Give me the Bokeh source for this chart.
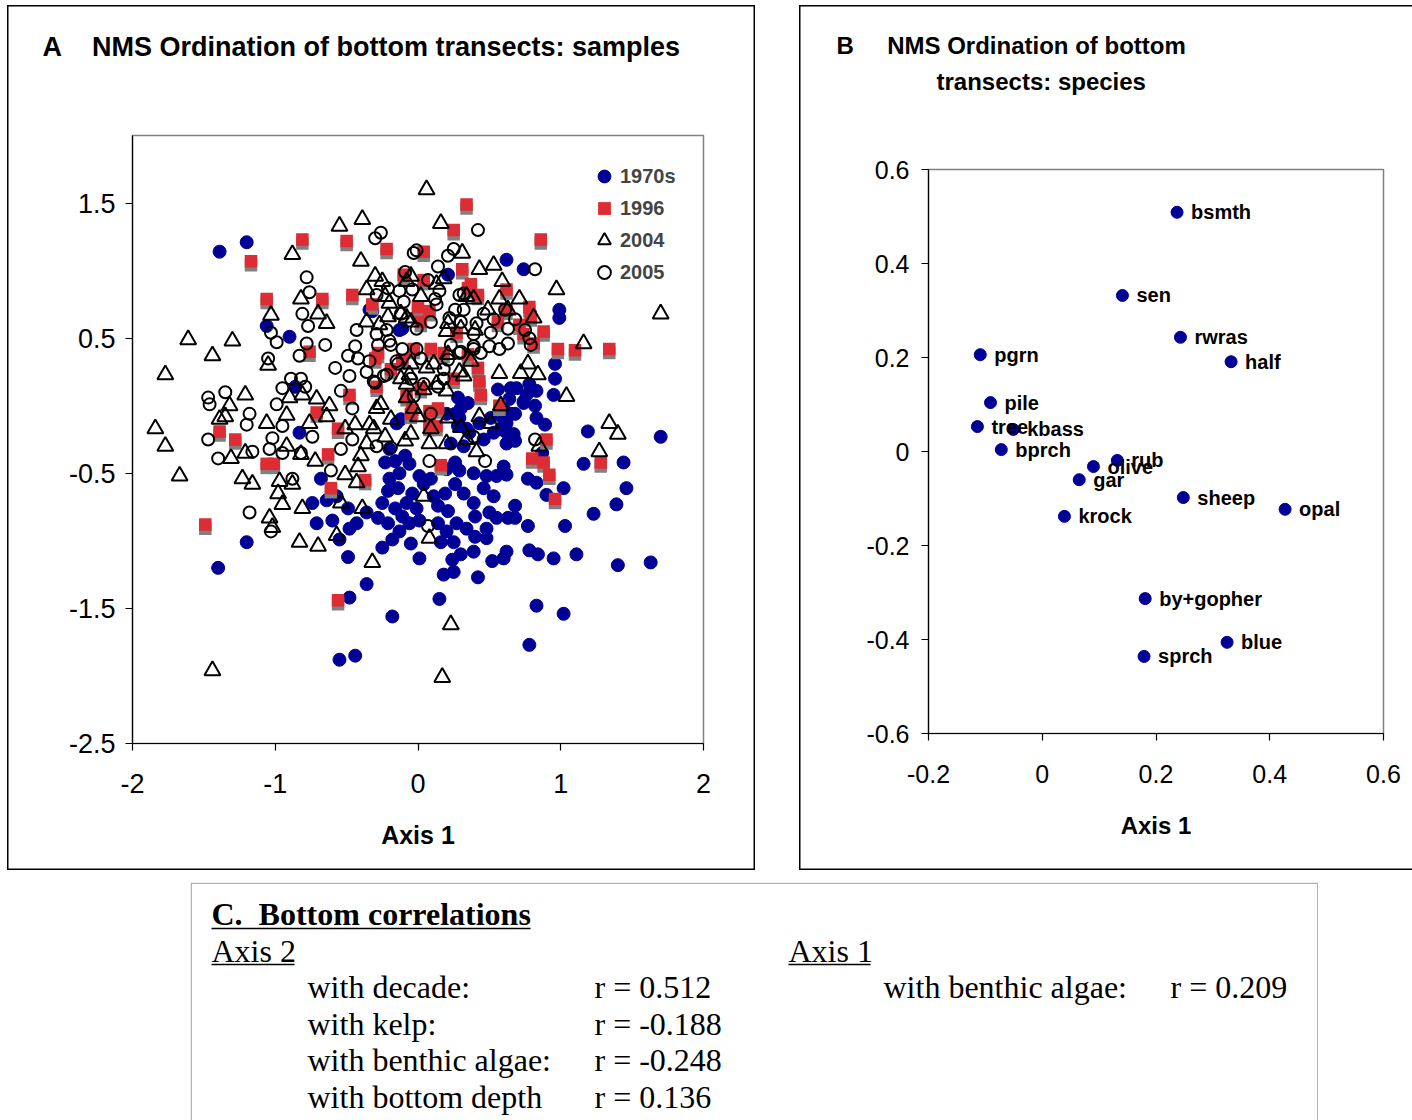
from bokeh.plotting import figure
from bokeh.models import (ColumnDataSource, FixedTicker, BoxAnnotation, Legend, LegendItem, Range1d,
                          Title, Spacer)
from bokeh.layouts import column, row
from bokeh.transform import dodge
from bokeh.core.properties import value
from bokeh.embed import file_html
from bokeh.resources import INLINE

# ---------------- data: panel A (sample scores) ----------------
s1970 = [[-1.39,1.14],[-1.20,1.21],[-1.40,-1.20],[0.62,1.08],[0.74,1.01],[0.99,0.71],[0.99,0.65],[0.21,0.97],[-0.32,0.70],[-0.11,0.57],
 [-1.06,0.59],[-0.90,0.51],[0.96,0.31],[0.96,0.20],[0.69,0.13],[0.76,0.08],[0.83,0.11],[0.95,0.08],[0.74,0.02],[0.82,0.00],
 [0.68,-0.06],[0.83,-0.09],[0.89,-0.14],[1.19,-0.19],[1.70,-0.23],[0.68,-0.26],[0.87,-0.35],[1.16,-0.43],[1.44,-0.42],[0.77,-0.54],
 [0.83,-0.57],[1.02,-0.61],[1.46,-0.61],[0.90,-0.66],[1.39,-0.73],[0.68,-0.74],[1.23,-0.80],[0.68,-0.83],[0.77,-0.89],[1.03,-0.89],
 [-1.20,-1.01],[-0.55,-0.99],[-0.49,-1.12],[-0.25,-1.05],[-0.18,-0.99],[-0.05,-1.02],[0.01,-1.13],[0.16,-1.01],[0.25,-1.01],[0.24,-1.14],
 [0.30,-1.10],[0.39,-1.08],[0.40,-0.97],[0.48,-0.98],[0.52,-1.15],[0.60,-1.13],[0.62,-1.08],[0.78,-1.07],[0.84,-1.10],[0.95,-1.13],
 [1.11,-1.10],[1.40,-1.18],[1.63,-1.16],[0.18,-1.25],[0.25,-1.23],[0.42,-1.27],[-0.36,-1.32],[-0.48,-1.42],[0.15,-1.43],[0.83,-1.48],
 [1.02,-1.54],[-0.18,-1.56],[0.78,-1.77],[-0.44,-1.85],[-0.55,-1.88],[-0.86,0.14],[-0.83,-0.20],[-0.74,-0.72],[-0.71,-0.87],[-0.68,-0.54],
 [-0.34,0.71],[-0.13,0.56],[0.65,0.13],[0.61,-0.19],[0.62,-0.28],[-0.20,-0.32],[-0.23,-0.42],[-0.16,-0.41],[-0.09,-0.37],[-0.06,-0.43],
 [-0.13,-0.50],[-0.20,-0.54],[-0.21,-0.63],[-0.14,-0.61],[-0.04,-0.65],[-0.08,-0.72],[-0.16,-0.76],[-0.11,-0.82],[-0.01,-0.76],[0.11,-0.67],
 [0.14,-0.74],[0.21,-0.78],[0.19,-0.65],[0.26,-0.58],[0.32,-0.65],[0.39,-0.72],[0.46,-0.61],[0.53,-0.67],[0.55,-0.52],[0.62,-0.51],
 [0.60,-0.45],[0.48,-0.52],[0.39,-0.50],[0.29,-0.48],[0.20,-0.47],[0.26,-0.42],[0.01,-0.52],[0.09,-0.54],[0.04,-0.58],[-0.25,-0.72],
 [-0.28,-0.83],[-0.21,-0.87],[-0.06,-0.87],[0.01,-0.85],[0.14,-0.87],[0.27,-0.87],[0.40,-0.82],[0.50,-0.79],[0.55,-0.83],[0.63,-0.83],
 [0.48,-0.91],[0.34,-0.91],[0.20,-0.93],[-0.13,-0.93],[-0.43,-0.87],[-0.49,-0.76],[-0.48,-0.91],[-0.36,-0.79],[-0.64,-0.70],[-0.57,-0.67],
 [-0.60,-0.85],[0.23,-0.28],[0.32,-0.30],[0.46,-0.25],[0.36,-0.20],[0.53,-0.20],[0.62,-0.13],[0.43,-0.13],[0.28,-0.15],[0.26,-0.06],
 [0.30,-0.02],[0.64,0.05],[0.61,-0.04],[0.56,0.12],[0.78,0.16],[0.74,0.03],[0.65,-0.06],[0.58,-0.17],[0.51,-0.09],[0.60,-0.10],
 [0.67,-0.21],[0.28,0.06],[0.35,0.02],[0.20,-0.06],[0.29,-0.09],[-0.12,-0.10],[-0.15,-0.13],[0.34,-0.17]]

s1996 = [[-1.17,1.07],[-0.81,1.23],[-1.06,0.79],[-0.67,0.79],[-0.50,1.22],[-0.22,1.16],[0.04,1.14],[0.34,1.49],[0.25,1.30],[0.31,1.01],
 [0.04,0.93],[0.37,0.90],[0.62,0.86],[0.86,1.23],[-0.46,0.82],[-1.39,-0.19],[-1.28,-0.25],[-1.49,-0.88],[-1.06,-0.43],[-1.01,-0.43],
 [-0.76,0.40],[-0.71,-0.05],[-0.61,-0.61],[-0.56,-1.44],[-0.37,-0.55],[0.16,-0.44],[0.98,0.42],[1.10,0.41],[1.34,0.42],[0.90,-0.25],
 [0.80,-0.39],[0.88,-0.42],[0.92,-0.51],[1.28,-0.42],[0.96,-0.69],[-0.10,0.97],[0.35,0.87],[0.00,0.73],[0.08,0.70],[0.02,0.62],
 [0.27,0.54],[-0.32,0.75],[0.42,0.82],[0.78,0.73],[0.79,0.66],[0.71,0.60],[0.62,0.71],[0.56,0.62],[0.74,0.53],[0.88,0.55],
 [-0.28,0.39],[-0.03,0.42],[0.09,0.42],[0.18,0.39],[0.35,0.38],[-0.19,0.27],[0.02,0.13],[0.14,-0.02],[0.13,-0.15],[-0.05,-0.06],
 [0.25,0.20],[-0.29,0.14],[0.42,0.28],[0.43,0.18],[0.44,0.08],[0.57,0.00],[0.81,0.46],[-0.30,0.35],[-0.11,0.34],[-0.08,0.07],
 [-0.04,-0.03],[0.08,-0.15],[-0.48,0.08],[-0.56,-0.17],[-0.63,-0.36],[0.08,-0.04]]

s2004 = [[0.06,1.60],[-0.39,1.38],[-0.55,1.33],[0.16,1.35],[0.31,1.13],[-0.88,1.12],[-0.82,0.79],[-1.03,0.67],[-0.70,0.68],[-0.40,1.07],
 [-0.30,0.96],[-0.05,0.96],[0.43,1.01],[0.53,1.04],[0.59,0.92],[0.97,0.86],[1.70,0.68],[0.71,0.79],[0.81,0.65],[-1.61,0.49],
 [-1.30,0.48],[-1.44,0.37],[-1.77,0.23],[-1.05,0.30],[-1.21,0.08],[-1.32,0.00],[-1.39,-0.10],[-1.35,-0.08],[-1.06,-0.13],[-0.92,-0.07],
 [-0.90,0.06],[-0.81,0.08],[-0.71,0.05],[-0.76,-0.13],[-1.84,-0.17],[-1.77,-0.30],[-1.67,-0.52],[-1.31,-0.39],[-1.21,-0.35],[-0.92,-0.30],
 [-0.82,-0.36],[-0.72,-0.41],[-1.23,-0.54],[-1.16,-0.58],[-0.97,-0.56],[-0.88,-0.58],[-0.98,-0.65],[-0.95,-0.73],[-0.81,-0.76],[-1.04,-0.83],
 [-1.02,-0.90],[-1.44,-1.96],[-0.83,-1.01],[-0.70,-1.04],[-0.57,-0.96],[-0.32,-1.16],[0.08,-0.98],[0.23,-1.62],[0.17,-2.01],[-0.25,0.92],
 [-0.36,0.86],[-0.23,0.81],[-0.20,0.76],[-0.21,0.66],[-0.12,0.68],[-0.08,0.65],[-0.36,0.62],[-0.64,0.61],[0.02,0.81],[0.13,0.90],
 [0.34,0.81],[0.49,0.71],[0.57,0.79],[0.40,0.56],[0.20,0.55],[0.18,0.94],[-0.08,0.92],[-0.05,0.62],[-0.27,0.60],[0.21,0.61],
 [0.30,0.57],[0.63,0.71],[0.39,0.79],[-0.05,0.31],[-0.06,0.23],[0.06,0.28],[0.11,0.31],[0.21,0.38],[0.29,0.25],[-0.08,0.16],
 [0.04,0.12],[0.13,0.16],[0.20,0.11],[-0.26,0.01],[-0.29,-0.02],[-0.19,-0.10],[-0.03,-0.02],[-0.08,0.06],[0.21,-0.09],[0.30,-0.16],
 [-0.31,-0.17],[-0.05,-0.21],[0.09,-0.17],[0.77,0.31],[0.72,0.24],[0.84,0.23],[0.57,0.24],[1.04,0.07],[0.58,0.00],[0.43,-0.08],
 [0.51,-0.13],[0.37,0.33],[1.16,0.46],[1.34,-0.13],[1.40,-0.21],[1.27,-0.34],[0.85,-0.30],[-0.62,0.00],[-0.64,-0.08],[-0.51,-0.17],
 [-0.44,-0.14],[-0.34,-0.14],[-0.23,-0.23],[-0.36,-0.28],[-0.40,-0.37],[-0.42,-0.45],[-0.51,-0.51],[-0.43,-0.57],[-0.54,-0.72],[-0.39,-0.76],
 [0.04,-0.67],[0.00,-0.08],[-0.09,-0.26],[0.08,-0.28],[0.20,-0.28],[0.34,-0.25],[0.41,-0.34],[0.32,0.22],[-0.12,0.20]]

s2005 = [[-0.78,0.95],[-0.76,0.84],[-0.81,0.68],[-0.77,0.59],[-1.03,0.54],[0.42,1.30],[-0.26,1.28],[-0.30,1.24],[-0.01,1.15],[-0.03,1.13],
 [0.25,1.16],[0.21,1.11],[0.14,1.03],[-0.09,0.99],[0.07,0.93],[0.15,0.85],[0.32,0.83],[-0.13,0.85],[-0.04,0.86],[-0.21,0.87],
 [-0.29,0.82],[0.12,0.79],[0.26,0.71],[0.46,0.68],[0.61,0.71],[0.63,0.57],[0.22,0.65],[0.30,0.62],[-0.22,0.56],[-0.43,0.56],
 [-0.01,0.57],[0.09,0.62],[0.82,1.01],[0.75,0.56],[0.68,0.64],[-0.99,0.47],[-1.05,0.35],[-0.83,0.37],[-0.78,0.46],[-0.89,0.20],
 [-0.82,0.20],[-0.95,0.13],[-0.79,0.14],[-1.47,0.06],[-1.46,0.01],[-1.35,0.10],[-0.99,0.01],[-1.18,-0.06],[-1.20,-0.14],[-0.95,-0.15],
 [-1.02,-0.24],[-0.74,-0.23],[-1.47,-0.25],[-1.40,-0.39],[-1.16,-0.34],[-1.04,-0.32],[-0.95,-0.35],[-0.82,-0.35],[-0.88,-0.54],[-1.18,-0.79],
 [-1.03,-0.93],[-0.65,0.45],[-0.58,0.28],[-0.48,0.22],[-0.42,0.35],[-0.34,0.33],[-0.22,0.23],[-0.30,0.17],[-0.54,0.11],[-0.46,-0.02],
 [-0.36,0.25],[-0.20,0.48],[-0.01,0.42],[0.04,0.16],[0.09,-0.06],[0.39,-0.23],[0.47,-0.41],[0.08,-0.41],[-0.19,-0.31],[-0.29,-0.30],
 [-0.46,-0.25],[-0.54,-0.32],[-0.61,-0.48],[0.07,-0.89],[0.14,0.14],[0.18,0.27],[0.29,0.39],[0.39,0.42],[0.57,0.42],[0.63,0.46],
 [0.21,0.34],[-0.44,0.44],[-0.49,0.37],[-0.14,0.31],[-0.05,0.20],[0.79,0.45],[0.82,-0.25],[0.29,0.82],[0.32,0.71],[0.13,0.75],
 [-0.10,0.77],[-0.12,0.68],[-0.29,0.53],[0.53,0.64],[0.41,0.61],[0.51,0.54],[0.78,0.50],[0.39,0.53],[-0.28,0.45],[-0.19,0.45],
 [-0.11,0.42],[-0.15,0.33],[-0.24,0.22],[-0.31,0.18],[0.02,0.35],[0.23,0.45],[0.30,0.40],[-0.03,0.07],[0.18,0.20],[0.39,0.44],
 [0.50,0.44],[0.44,0.39]]

a_xticks = [-2, -1, 0, 1, 2]
a_xtick_labels = ["-2", "-1", "0", "1", "2"]
a_yticks = [-2.5, -1.5, -0.5, 0.5, 1.5]
a_ytick_labels = ["-2.5", "-1.5", "-0.5", "0.5", "1.5"]
series_names = ["1970s", "1996", "2004", "2005"]

# ---------------- data: panel B (species scores) ----------------
species = ["bsmth", "sen", "rwras", "half", "pgrn", "pile", "tree", "kbass", "bprch",
           "rub", "olive", "gar", "sheep", "opal", "krock", "by+gopher", "blue", "sprch"]
sp_axis1 = [0.237, 0.141, 0.243, 0.332, -0.109, -0.091, -0.114, -0.051, -0.072,
            0.132, 0.090, 0.065, 0.248, 0.427, 0.039, 0.181, 0.325, 0.179]
sp_axis2 = [0.509, 0.332, 0.243, 0.191, 0.206, 0.104, 0.053, 0.047, 0.004,
            -0.019, -0.032, -0.060, -0.098, -0.123, -0.138, -0.313, -0.406, -0.436]
b_xticks = [-0.2, 0, 0.2, 0.4, 0.6]
b_xtick_labels = ["-0.2", "0", "0.2", "0.4", "0.6"]
b_yticks = [-0.6, -0.4, -0.2, 0, 0.2, 0.4, 0.6]
b_ytick_labels = ["-0.6", "-0.4", "-0.2", "0", "0.2", "0.4", "0.6"]

# ---------------- data: panel C (correlations) ----------------
axis2_vars = ["with decade:", "with kelp:", "with benthic algae:", "with bottom depth"]
axis2_r = ["r = 0.512", "r = -0.188", "r = -0.248", "r = 0.136"]
axis1_vars = ["with benthic algae:"]
axis1_r = ["r = 0.209"]

# ---------------- styling ----------------
NAVY = "#000096"
RED = "#DD2C33"
SANS = "Liberation Sans"
SERIF = "Liberation Serif"
NB = "\u00a0"

def xy(pts):
    return dict(x=[p[0] for p in pts], y=[p[1] for p in pts])

def style_axes(p, xt, xl, yt, yl, size, xstand, ystand, label_size, label_stand):
    p.xaxis.ticker = FixedTicker(ticks=xt)
    p.yaxis.ticker = FixedTicker(ticks=yt)
    p.xaxis.major_label_overrides = {t: l for t, l in zip(xt, xl)}
    p.yaxis.major_label_overrides = {t: l for t, l in zip(yt, yl)}
    for ax in (p.xaxis[0], p.yaxis[0]):
        ax.axis_line_color = "black"
        ax.axis_line_width = 1.2
        ax.major_tick_line_color = "black"
        ax.major_tick_line_width = 1.2
        ax.major_tick_in = 0
        ax.major_tick_out = 7
        ax.minor_tick_line_color = None
        ax.major_label_text_font = SANS
        ax.major_label_text_font_size = size
        ax.major_label_text_color = "black"
    p.xaxis.major_label_standoff = xstand
    p.yaxis.major_label_standoff = ystand
    p.xaxis.axis_label = "Axis 1"
    p.xaxis.axis_label_text_font = SANS
    p.xaxis.axis_label_text_font_style = "bold"
    p.xaxis.axis_label_text_font_size = label_size
    p.xaxis.axis_label_text_color = "black"
    p.xaxis.axis_label_standoff = label_stand
    p.xgrid.visible = False
    p.ygrid.visible = False
    p.outline_line_color = "#808080"
    p.outline_line_width = 1.5
    p.frame_align = False
    p.background_fill_color = "white"
    p.border_fill_alpha = 0

def spacer_title(standoff):
    # an invisible (white-on-white) title used only to reserve vertical space
    return Title(text=NB, text_font_size="10px", standoff=standoff, text_color="white")

# ---------------- Panel A ----------------
A_W, A_H = 748, 865
pA = figure(width=A_W, height=A_H, x_range=Range1d(-2, 2), y_range=Range1d(-2.5, 2),
            output_backend="svg", toolbar_location=None,
            min_border_left=125, min_border_right=52, min_border_top=130, min_border_bottom=127)
style_axes(pA, a_xticks, a_xtick_labels, a_yticks, a_ytick_labels, "27px", 23, 10, "25px", 25)
pA.styles = {"box-shadow": "inset 0 0 0 1.5px black"}

src70 = ColumnDataSource(xy(s1970))
src96 = ColumnDataSource(xy(s1996))
src04 = ColumnDataSource(xy(s2004))
src05 = ColumnDataSource(xy(s2005))

r70 = pA.scatter("x", "y", source=src70, marker="circle", size=13, fill_color=NAVY, line_color=NAVY)
pA.scatter("x", dodge("y", -0.03, range=pA.y_range), source=src96, marker="square", size=12.5,
           fill_color="#808080", line_color=None)
r96 = pA.scatter("x", "y", source=src96, marker="square", size=12.5, fill_color=RED, line_color=None)
r04 = pA.scatter("x", "y", source=src04, marker="triangle", size=16, fill_color=None,
                 line_color="black", line_width=2)
r05 = pA.scatter("x", "y", source=src05, marker="circle", size=12, fill_color=None,
                 line_color="black", line_width=2)

legA = Legend(items=[LegendItem(label=n, renderers=[r]) for n, r in zip(series_names, [r70, r96, r04, r05])],
              location=(456, 455))
legA.border_line_color = None
legA.background_fill_alpha = 0
legA.label_text_font = SANS
legA.label_text_font_style = "bold"
legA.label_text_font_size = "20px"
legA.glyph_width = 32
legA.glyph_height = 32
legA.label_height = 32
legA.spacing = 0
legA.padding = 0
legA.margin = 0
legA.label_standoff = 0
pA.add_layout(legA)

pA.add_layout(spacer_title(61), "above")
pA.add_layout(Title(text="A" + NB * 4 + "NMS Ordination of bottom transects: samples", align="left",
                    offset=-90, standoff=0, text_font=SANS, text_font_style="bold",
                    text_font_size="27px", text_color="black"), "above")

# ---------------- Panel B ----------------
B_W, B_H = 613, 865
pB = figure(width=B_W, height=B_H, x_range=Range1d(-0.2, 0.6), y_range=Range1d(-0.6, 0.6),
            output_backend="svg", toolbar_location=None,
            min_border_left=129, min_border_right=29, min_border_top=164, min_border_bottom=137)
style_axes(pB, b_xticks, b_xtick_labels, b_yticks, b_ytick_labels, "25px", 24, 12, "24px", 26)
pB.styles = {"box-shadow": "inset 1.5px 0 0 0 black, inset 0 1.5px 0 0 black, inset 0 -1.5px 0 0 black"}

srcS = ColumnDataSource(dict(x=sp_axis1, y=sp_axis2, name=species))
pB.scatter("x", "y", source=srcS, marker="circle", size=12, fill_color=NAVY, line_color=NAVY)
pB.text("x", "y", text="name", source=srcS, x_offset=14, text_baseline="middle",
        text_font=value(SANS), text_font_style="bold", text_font_size="20px", text_color="black")

pB.add_layout(spacer_title(55), "above")
pB.add_layout(Title(text="transects: species", align="left", offset=8, standoff=14,
                    text_font=SANS, text_font_style="bold", text_font_size="24px",
                    text_color="black"), "above")
pB.add_layout(Title(text="B" + NB * 5 + "NMS Ordination of bottom", align="left", offset=-92,
                    standoff=0, text_font=SANS, text_font_style="bold", text_font_size="24px",
                    text_color="black"), "above")

# ---------------- Panel C ----------------
C_W, C_H = 1128, 238
pC = figure(width=C_W, height=C_H, x_range=Range1d(0, C_W), y_range=Range1d(C_H, 0),
            output_backend="svg", toolbar_location=None, x_axis_type=None, y_axis_type=None,
            min_border=0)
pC.outline_line_color = None
pC.xgrid.visible = False
pC.ygrid.visible = False
pC.border_fill_color = "white"
pC.add_layout(BoxAnnotation(left=0.75, right=C_W - 0.75, top=0.75, bottom=400,
                            fill_color=None, line_color="black", line_width=1.5))

row_y = [104, 141, 177, 214]
TXT = dict(text_font=value(SERIF), text_font_size="32px", text_baseline="middle", text_color="black")
pC.text(x=[21], y=[31], text=["C." + NB * 2 + "Bottom correlations"], text_font_style="bold", **TXT)
pC.text(x=[21, 598], y=[68, 68], text=["Axis 2", "Axis 1"], **TXT)
pC.segment(x0=[21, 21, 598], y0=[46, 82, 82], x1=[340, 104, 680], y1=[46, 82, 82],
           line_color="black", line_width=1.5)
pC.text(x=[117] * len(axis2_vars), y=row_y[:len(axis2_vars)], text=axis2_vars, **TXT)
pC.text(x=[404] * len(axis2_r), y=row_y[:len(axis2_r)], text=axis2_r, **TXT)
pC.text(x=[693] * len(axis1_vars), y=row_y[:len(axis1_vars)], text=axis1_vars, **TXT)
pC.text(x=[980] * len(axis1_r), y=row_y[:len(axis1_r)], text=axis1_r, **TXT)

layout = column(
    Spacer(width=1412, height=5),
    row(Spacer(width=7, height=A_H), pA, Spacer(width=44, height=A_H), pB, spacing=0),
    Spacer(width=1412, height=12),
    row(Spacer(width=190, height=C_H), pC, spacing=0),
    spacing=0)
open("out.html", "w").write(file_html(layout, INLINE))
